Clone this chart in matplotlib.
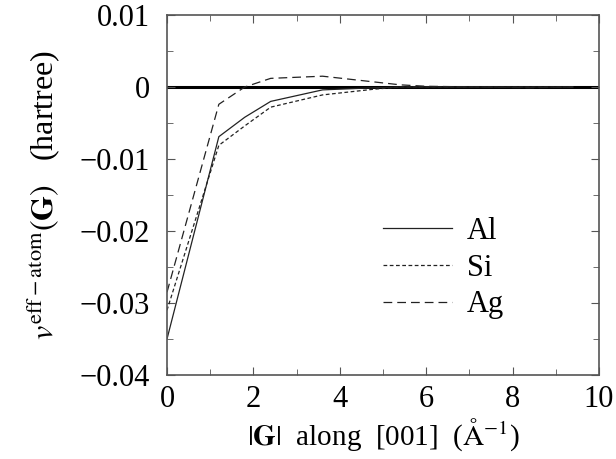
import numpy as np
import matplotlib
matplotlib.use('Agg')
import matplotlib.pyplot as plt
from matplotlib.ticker import MultipleLocator, FuncFormatter

plt.rcParams['font.family'] = ['Liberation Serif', 'DejaVu Serif']
plt.rcParams['mathtext.fontset'] = 'stix'

# |G| along [001] (1/Angstrom) and v_eff-atom(G) (hartree)
g = [0.0, 1.2, 1.8, 2.4, 3.6, 4.8, 5.4, 6.0, 7.2, 8.4, 9.4]
v_al = [-0.0350, -0.0069, -0.0042, -0.0020, -0.0004, -0.0001, 0.0000, 0.0000, 0.0000, 0.0000, 0.0000]
v_si = [-0.0310, -0.0081, -0.0054, -0.0028, -0.0011, -0.0003, 0.0000, 0.0000, 0.0000, 0.0000, 0.0000]
v_ag = [-0.0285, -0.0024, 0.0000, 0.0012, 0.0015, 0.0007, 0.0003, 0.0001, 0.0000, -0.0001, 0.0000]

fig = plt.figure(figsize=(6.16, 4.59), dpi=100)
ax = fig.add_axes([167/616, 1-375/459, 432/616, 360/459])

ax.axhline(0, color='black', lw=2.2, zorder=1)
ax.plot(g, v_al, color='#222222', lw=0.9, ls='-', label='Al')
ax.plot(g, v_si, color='#222222', lw=0.9, ls=(0, (3, 2)), label='Si')
ax.plot(g, v_ag, color='#222222', lw=0.9, ls=(0, (7, 4)), label='Ag')

ax.set_xlim(0, 10)
ax.set_ylim(-0.04, 0.01)
ax.xaxis.set_major_locator(MultipleLocator(2))
ax.xaxis.set_minor_locator(MultipleLocator(1))
ax.yaxis.set_major_locator(MultipleLocator(0.01))
ax.yaxis.set_minor_locator(MultipleLocator(0.005))

def yfmt(v, pos):
    if abs(v) < 1e-9:
        return '0'
    return ('\u2212' if v < 0 else '') + f'{abs(v):.2f}'
ax.yaxis.set_major_formatter(FuncFormatter(yfmt))

ax.tick_params(which='both', direction='in', top=True, right=True, labelsize=22, color='#555555')
ax.tick_params(which='major', length=6)
ax.tick_params(axis='x', which='major', pad=7)
ax.tick_params(axis='y', which='major', pad=12)
ax.tick_params(which='minor', length=4)
for s in ax.spines.values():
    s.set_color('#555555')
    s.set_linewidth(1.2)

ax.set_xlabel(r'$|\mathbf{G}|$  along  [001]  ($\mathrm{\AA}^{-1}$)', fontsize=21, labelpad=2)
ax.set_ylabel(r'$v^{\rm eff-atom}(\mathbf{G})$   (hartree)', fontsize=23, labelpad=12)

ax.legend(loc='center left', bbox_to_anchor=(0.5, 0.297), frameon=False, fontsize=22,
          handlelength=2.25, handletextpad=0.5, labelspacing=0.25,
          borderaxespad=0, borderpad=0)

fig.savefig('out.png', dpi=100)
